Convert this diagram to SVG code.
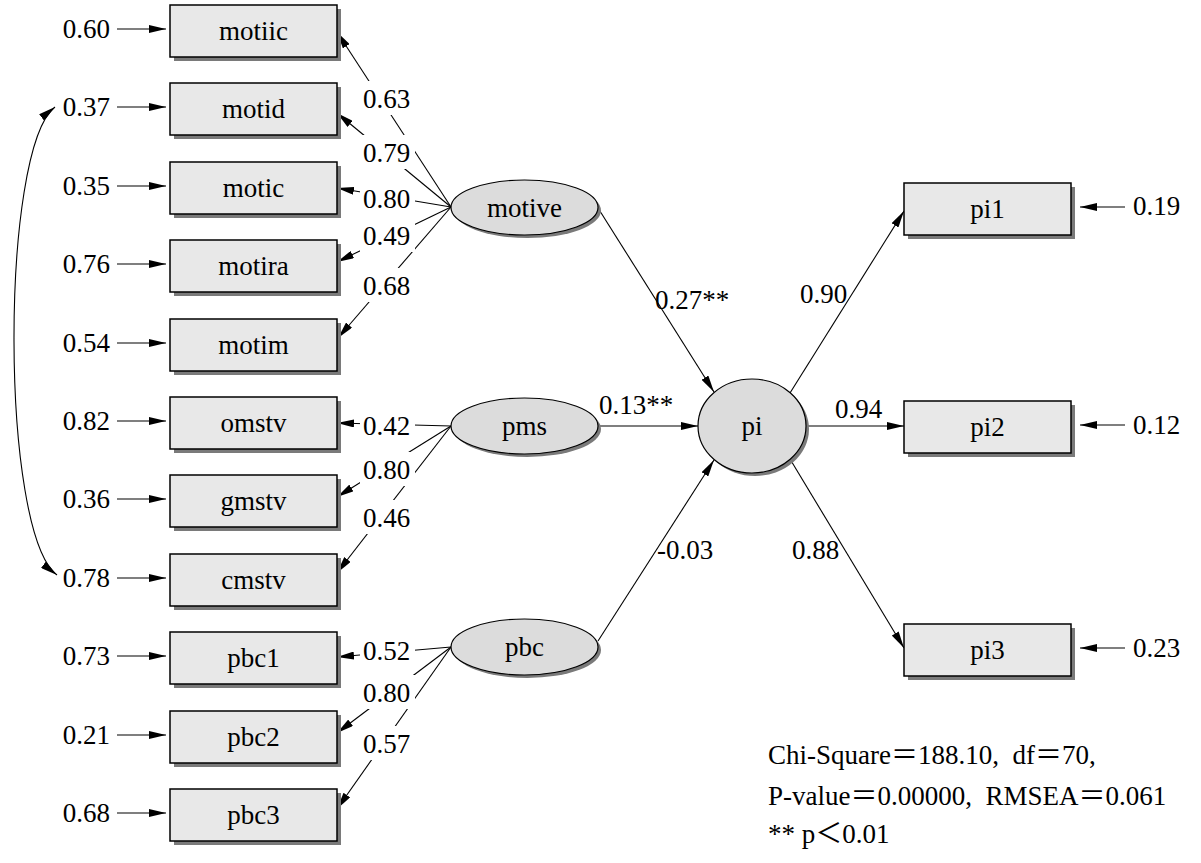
<svg xmlns="http://www.w3.org/2000/svg" width="1201" height="863" viewBox="0 0 1201 863" font-family="'Liberation Serif', 'DejaVu Serif', serif">
<style>
text{font-family:'Liberation Serif','DejaVu Serif',serif;font-size:27px;fill:#000}
.box{fill:#e8e8e8;stroke:#000;stroke-width:1.5}
.sh{fill:#7a7a7a}
.ell{fill:#dcdcdc;stroke:#000;stroke-width:1.2}
.c{text-anchor:middle}
.e{text-anchor:end}
.ln{stroke:#000;stroke-width:1.1;fill:none;marker-end:url(#ah)}
.bg{fill:#fff}
.stat{font-family:'Liberation Serif','Noto Sans CJK SC',serif;white-space:pre}
</style>
<defs>
<marker id="ah" viewBox="0 0 17 8" refX="17" refY="4" markerWidth="17" markerHeight="8" markerUnits="userSpaceOnUse" orient="auto-start-reverse">
<path d="M0,0 L17,4 L0,8 z" fill="#000"/>
</marker>
</defs>
<rect width="1201" height="863" fill="#fff"/>

<g id="connectors">
<line class="ln" x1="117" y1="29" x2="166" y2="29"/>
<line class="ln" x1="117" y1="107" x2="166" y2="107"/>
<line class="ln" x1="117" y1="186" x2="166" y2="186"/>
<line class="ln" x1="117" y1="264" x2="166" y2="264"/>
<line class="ln" x1="117" y1="343" x2="166" y2="343"/>
<line class="ln" x1="117" y1="421" x2="166" y2="421"/>
<line class="ln" x1="117" y1="499" x2="166" y2="499"/>
<line class="ln" x1="117" y1="578" x2="166" y2="578"/>
<line class="ln" x1="117" y1="656" x2="166" y2="656"/>
<line class="ln" x1="117" y1="735" x2="166" y2="735"/>
<line class="ln" x1="117" y1="813" x2="166" y2="813"/>
<path d="M55,107 C0,150 0,532 57,575" style="stroke:#000;stroke-width:1.1;fill:none;marker-start:url(#ah);marker-end:url(#ah)"/>
<line class="ln" x1="451" y1="207" x2="337" y2="32"/>
<line class="ln" x1="451" y1="207" x2="337" y2="113"/>
<line class="ln" x1="451" y1="207" x2="337" y2="188"/>
<line class="ln" x1="451" y1="207" x2="337" y2="262"/>
<line class="ln" x1="451" y1="207" x2="338" y2="338"/>
<line class="ln" x1="451" y1="426" x2="337" y2="423"/>
<line class="ln" x1="451" y1="426" x2="337" y2="497"/>
<line class="ln" x1="451" y1="426" x2="337" y2="573"/>
<line class="ln" x1="451" y1="647" x2="337" y2="657"/>
<line class="ln" x1="451" y1="647" x2="337" y2="733"/>
<line class="ln" x1="451" y1="647" x2="337" y2="809"/>
<rect class="bg" x="360" y="81" width="55" height="34"/>
<rect class="bg" x="360" y="135" width="55" height="34"/>
<rect class="bg" x="360" y="181" width="55" height="34"/>
<rect class="bg" x="360" y="218" width="55" height="34"/>
<rect class="bg" x="360" y="268" width="55" height="34"/>
<rect class="bg" x="360" y="408" width="55" height="34"/>
<rect class="bg" x="360" y="452" width="55" height="34"/>
<rect class="bg" x="360" y="500" width="55" height="34"/>
<rect class="bg" x="360" y="633" width="55" height="34"/>
<rect class="bg" x="360" y="675" width="55" height="34"/>
<rect class="bg" x="360" y="726" width="55" height="34"/>
<text x="363" y="108">0.63</text>
<text x="363" y="162">0.79</text>
<text x="363" y="208">0.80</text>
<text x="363" y="245">0.49</text>
<text x="363" y="295">0.68</text>
<text x="363" y="435">0.42</text>
<text x="363" y="479">0.80</text>
<text x="363" y="527">0.46</text>
<text x="363" y="660">0.52</text>
<text x="363" y="702">0.80</text>
<text x="363" y="753">0.57</text>
<line class="ln" x1="598" y1="208" x2="714" y2="392"/>
<line class="ln" x1="598" y1="426" x2="698" y2="426"/>
<line class="ln" x1="598" y1="641" x2="714" y2="460"/>
<line class="ln" x1="790" y1="393" x2="904" y2="211"/>
<line class="ln" x1="806" y1="426" x2="904" y2="426"/>
<line class="ln" x1="790" y1="459" x2="904" y2="648"/>
<text x="655" y="309">0.27**</text>
<text x="599" y="414">0.13**</text>
<text x="657" y="559">-0.03</text>
<text x="800" y="303">0.90</text>
<text x="835" y="418">0.94</text>
<text x="792" y="559">0.88</text>
<line class="ln" x1="1125" y1="207" x2="1080" y2="207"/>
<line class="ln" x1="1125" y1="425" x2="1080" y2="425"/>
<line class="ln" x1="1125" y1="648" x2="1080" y2="648"/>
</g>

<g id="err-left">
<text class="e" x="110" y="38">0.60</text>
<text class="e" x="110" y="116">0.37</text>
<text class="e" x="110" y="195">0.35</text>
<text class="e" x="110" y="273">0.76</text>
<text class="e" x="110" y="352">0.54</text>
<text class="e" x="110" y="430">0.82</text>
<text class="e" x="110" y="508">0.36</text>
<text class="e" x="110" y="587">0.78</text>
<text class="e" x="110" y="665">0.73</text>
<text class="e" x="110" y="744">0.21</text>
<text class="e" x="110" y="822">0.68</text>
</g>
<g id="err-right">
<text x="1133" y="215">0.19</text>
<text x="1133" y="434">0.12</text>
<text x="1133" y="657">0.23</text>
</g>

<g id="motiic"><rect class="sh" x="174" y="9" width="167" height="52"/><rect class="box" x="170" y="5" width="167" height="52"/><text class="c" x="253.5" y="40">motiic</text></g>
<g id="motid"><rect class="sh" x="174" y="87" width="167" height="52"/><rect class="box" x="170" y="83" width="167" height="52"/><text class="c" x="253.5" y="118">motid</text></g>
<g id="motic"><rect class="sh" x="174" y="166" width="167" height="52"/><rect class="box" x="170" y="162" width="167" height="52"/><text class="c" x="253.5" y="197">motic</text></g>
<g id="motira"><rect class="sh" x="174" y="244" width="167" height="52"/><rect class="box" x="170" y="240" width="167" height="52"/><text class="c" x="253.5" y="275">motira</text></g>
<g id="motim"><rect class="sh" x="174" y="323" width="167" height="52"/><rect class="box" x="170" y="319" width="167" height="52"/><text class="c" x="253.5" y="354">motim</text></g>
<g id="omstv"><rect class="sh" x="174" y="401" width="167" height="52"/><rect class="box" x="170" y="397" width="167" height="52"/><text class="c" x="253.5" y="432">omstv</text></g>
<g id="gmstv"><rect class="sh" x="174" y="479" width="167" height="52"/><rect class="box" x="170" y="475" width="167" height="52"/><text class="c" x="253.5" y="510">gmstv</text></g>
<g id="cmstv"><rect class="sh" x="174" y="558" width="167" height="52"/><rect class="box" x="170" y="554" width="167" height="52"/><text class="c" x="253.5" y="589">cmstv</text></g>
<g id="pbc1"><rect class="sh" x="174" y="636" width="167" height="52"/><rect class="box" x="170" y="632" width="167" height="52"/><text class="c" x="253.5" y="667">pbc1</text></g>
<g id="pbc2"><rect class="sh" x="174" y="715" width="167" height="52"/><rect class="box" x="170" y="711" width="167" height="52"/><text class="c" x="253.5" y="746">pbc2</text></g>
<g id="pbc3"><rect class="sh" x="174" y="793" width="167" height="52"/><rect class="box" x="170" y="789" width="167" height="52"/><text class="c" x="253.5" y="824">pbc3</text></g>

<g id="motive"><ellipse class="sh" cx="527.5" cy="210.5" rx="73.5" ry="27.5"/><ellipse class="ell" cx="524.5" cy="207.5" rx="73.5" ry="27.5"/><text class="c" x="524.5" y="217">motive</text></g>
<g id="pms"><ellipse class="sh" cx="527.5" cy="429" rx="73.5" ry="28"/><ellipse class="ell" cx="524.5" cy="426" rx="73.5" ry="28"/><text class="c" x="524.5" y="435">pms</text></g>
<g id="pbc"><ellipse class="sh" cx="527.5" cy="650" rx="73.5" ry="28"/><ellipse class="ell" cx="524.5" cy="647" rx="73.5" ry="28"/><text class="c" x="524.5" y="656">pbc</text></g>
<g id="pi"><ellipse class="sh" cx="755" cy="429" rx="54" ry="47"/><ellipse class="ell" cx="752" cy="426" rx="54" ry="47"/><text class="c" x="752" y="435">pi</text></g>

<g id="pi1"><rect class="sh" x="908" y="187" width="167" height="52"/><rect class="box" x="904" y="183" width="167" height="52"/><text class="c" x="987.5" y="218">pi1</text></g>
<g id="pi2"><rect class="sh" x="908" y="405" width="167" height="52"/><rect class="box" x="904" y="401" width="167" height="52"/><text class="c" x="987.5" y="436">pi2</text></g>
<g id="pi3"><rect class="sh" x="908" y="628" width="167" height="52"/><rect class="box" x="904" y="624" width="167" height="52"/><text class="c" x="987.5" y="659">pi3</text></g>

<g id="stats">
<text class="stat" x="768" y="764">Chi-Square＝188.10,  df＝70,</text>
<text class="stat" x="768" y="805">P-value＝0.00000,  RMSEA＝0.061</text>
<text class="stat" x="768" y="843">** p＜0.01</text>
</g>
</svg>
